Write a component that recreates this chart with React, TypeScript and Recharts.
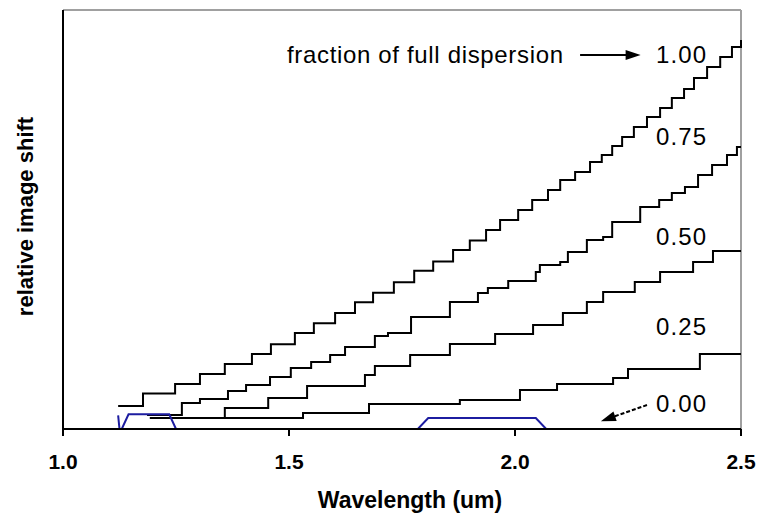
import React from 'react';
import { LineChart, Line, XAxis, YAxis, ReferenceLine, ReferenceDot } from 'recharts';

// Wavelength (um) where each flat step begins, and relative image shift of that step
const full100X = [1.122, 1.177, 1.248, 1.303, 1.358, 1.418, 1.46, 1.513, 1.555, 1.602, 1.646, 1.686, 1.732, 1.777, 1.819, 1.863, 1.9, 1.936, 1.967, 2.007, 2.038, 2.073, 2.1, 2.133, 2.166, 2.192, 2.215, 2.237, 2.263, 2.292, 2.321, 2.347, 2.374, 2.396, 2.425, 2.454, 2.48, 2.5];
const full100Y = [0.22, 0.34, 0.43, 0.525, 0.62, 0.716, 0.81, 0.916, 1.01, 1.107, 1.21, 1.3, 1.4, 1.51, 1.6, 1.71, 1.8, 1.9, 1.995, 2.091, 2.186, 2.282, 2.377, 2.453, 2.549, 2.616, 2.702, 2.788, 2.883, 2.979, 3.064, 3.16, 3.246, 3.351, 3.456, 3.551, 3.647, 3.714];

const frac075X = [1.186, 1.263, 1.303, 1.365, 1.405, 1.458, 1.504, 1.549, 1.591, 1.624, 1.69, 1.719, 1.77, 1.856, 1.918, 1.94, 1.985, 2.046, 2.055, 2.1, 2.117, 2.159, 2.195, 2.215, 2.277, 2.319, 2.347, 2.376, 2.405, 2.436, 2.469, 2.491, 2.5];
const frac075Y = [0.134, 0.248, 0.286, 0.363, 0.42, 0.496, 0.582, 0.64, 0.706, 0.783, 0.888, 0.916, 1.069, 1.212, 1.298, 1.346, 1.413, 1.499, 1.566, 1.594, 1.69, 1.804, 1.833, 1.976, 2.119, 2.186, 2.253, 2.31, 2.425, 2.52, 2.616, 2.692, 2.692];

const frac050X = [1.352, 1.358, 1.454, 1.54, 1.668, 1.69, 1.768, 1.856, 1.956, 2.04, 2.106, 2.159, 2.195, 2.265, 2.321, 2.394, 2.438, 2.5];
const frac050Y = [0.105, 0.2, 0.296, 0.411, 0.516, 0.601, 0.706, 0.811, 0.907, 0.993, 1.107, 1.212, 1.308, 1.403, 1.499, 1.594, 1.699, 1.699];

const frac025X = [1.192, 1.531, 1.677, 1.878, 2.011, 2.093, 2.217, 2.25, 2.409, 2.5];
const frac025Y = [0.105, 0.153, 0.239, 0.277, 0.372, 0.43, 0.487, 0.573, 0.716, 0.716];

const frac000X = [1.122, 1.125, 1.13, 1.145, 1.235, 1.25, 1.785, 1.808, 2.046, 2.069, 2.5];
const frac000Y = [0.13, 0, 0, 0.14, 0.14, 0, 0, 0.105, 0.105, 0, 0];

const xTicks = [1.0, 1.5, 2.0, 2.5];
const yTicks = [0, 1, 2, 3, 4];
const fractionLabels = ['1.00', '0.75', '0.50', '0.25', '0.00'];

const zip = (xs: number[], ys: number[]) => xs.map((x, i) => ({ x, y: ys[i] }));

const series = [
  { name: '1.00', data: zip(full100X, full100Y), color: '#000000', type: 'stepAfter' },
  { name: '0.75', data: zip(frac075X, frac075Y), color: '#000000', type: 'stepAfter' },
  { name: '0.50', data: zip(frac050X, frac050Y), color: '#000000', type: 'stepAfter' },
  { name: '0.25', data: zip(frac025X, frac025Y), color: '#000000', type: 'stepAfter' },
  { name: '0.00', data: zip(frac000X, frac000Y), color: '#1c1ca0', type: 'linear' },
];

// annotation anchors (data coordinates)
const labelAnchorX = 2.312;
const labelAnchorY = [3.494, 2.711, 1.757, 0.897, 0.162];
const titleAnchor = { x: 1.4956, y: 3.494 };
const titleArrow = [{ x: 2.144, y: 3.57 }, { x: 2.255, y: 3.57 }];
const zeroArrow = [{ x: 2.292, y: 0.229 }, { x: 2.2, y: 0.09 }];

const FONT = '"Liberation Sans", Arial, Helvetica, sans-serif';

const textShape = (txt: string, opts: any = {}) => (p: any) => (
  <text
    x={p.cx}
    y={p.cy}
    fontFamily={FONT}
    fontSize={24}
    fill="#000"
    textAnchor="start"
    {...opts}
  >
    {txt}
  </text>
);

const arrowHead = (angle: number) => (p: any) => (
  <polygon
    points="0,0 -15,-5 -15,5"
    fill="#000"
    transform={`translate(${p.cx},${p.cy}) rotate(${angle})`}
  />
);

const YTitle = (props: any) => {
  const vb = props.viewBox || { x: 0, y: 10, width: 63, height: 419 };
  const cx = vb.x + 25;
  const cy = vb.y + vb.height / 2 - 3;
  return (
    <text
      x={cx}
      y={cy}
      transform={`rotate(-90 ${cx} ${cy})`}
      textAnchor="middle"
      dominantBaseline="central"
      fontFamily={FONT}
      fontWeight="bold"
      fontSize={22}
      fill="#000"
    >
      relative image shift
    </text>
  );
};

const XTitle = (props: any) => {
  const vb = props.viewBox || { x: 63, y: 429, width: 678, height: 86 };
  const cx = vb.x + vb.width / 2 + 8;
  const cy = vb.y + 71;
  return (
    <text
      x={cx}
      y={cy}
      textAnchor="middle"
      dominantBaseline="central"
      fontFamily={FONT}
      fontWeight="bold"
      fontSize={23}
      fill="#000"
    >
      Wavelength (um)
    </text>
  );
};

export default function App() {
  return (
    <div style={{ position: 'absolute', left: 0, top: 0, width: 757, height: 515, background: '#fff' }}>
      <LineChart width={757} height={515} margin={{ top: 10, right: 16, bottom: 0, left: 0 }}>
        <XAxis
          dataKey="x"
          type="number"
          domain={[1.0, 2.5]}
          ticks={xTicks}
          tickFormatter={(v: number) => v.toFixed(1)}
          height={86}
          tickSize={7}
          tickMargin={18}
          axisLine={{ stroke: '#000', strokeWidth: 2 }}
          tickLine={{ stroke: '#000', strokeWidth: 2 }}
          tick={{ fontSize: 21, fontWeight: 'bold', fill: '#000', fontFamily: FONT }}
          allowDuplicatedCategory={false}
          label={{ content: XTitle }}
        />
        <YAxis
          dataKey="y"
          type="number"
          domain={[0, 4]}
          ticks={yTicks}
          width={63}
          tickSize={7}
          tick={false}
          axisLine={{ stroke: '#000', strokeWidth: 2 }}
          tickLine={{ stroke: '#000', strokeWidth: 2 }}
          label={{ content: YTitle }}
        />
        <ReferenceLine y={4} stroke="#a0a0a0" strokeWidth={2} />
        <ReferenceLine x={2.5} stroke="#a0a0a0" strokeWidth={2} />
        {series.map((s) => (
          <Line
            key={s.name}
            data={s.data}
            dataKey="y"
            type={s.type as any}
            stroke={s.color}
            strokeWidth={2}
            dot={false}
            activeDot={false}
            isAnimationActive={false}
          />
        ))}
        <ReferenceDot x={titleAnchor.x} y={titleAnchor.y} r={0} shape={textShape('fraction of full dispersion', { textLength: 276, lengthAdjust: 'spacing' })} />
        <ReferenceLine segment={titleArrow} stroke="#000" strokeWidth={2} />
        <ReferenceDot x={2.278} y={3.57} r={0} shape={arrowHead(0)} />
        {fractionLabels.map((t, i) => (
          <ReferenceDot key={t} x={labelAnchorX} y={labelAnchorY[i]} r={0} shape={textShape(t, { textLength: 50, lengthAdjust: 'spacing' })} />
        ))}
        <ReferenceLine segment={zeroArrow} stroke="#000" strokeWidth={2} strokeDasharray="4 2" />
        <ReferenceDot x={2.19} y={0.075} r={0} shape={arrowHead(161)} />
      </LineChart>
    </div>
  );
}
